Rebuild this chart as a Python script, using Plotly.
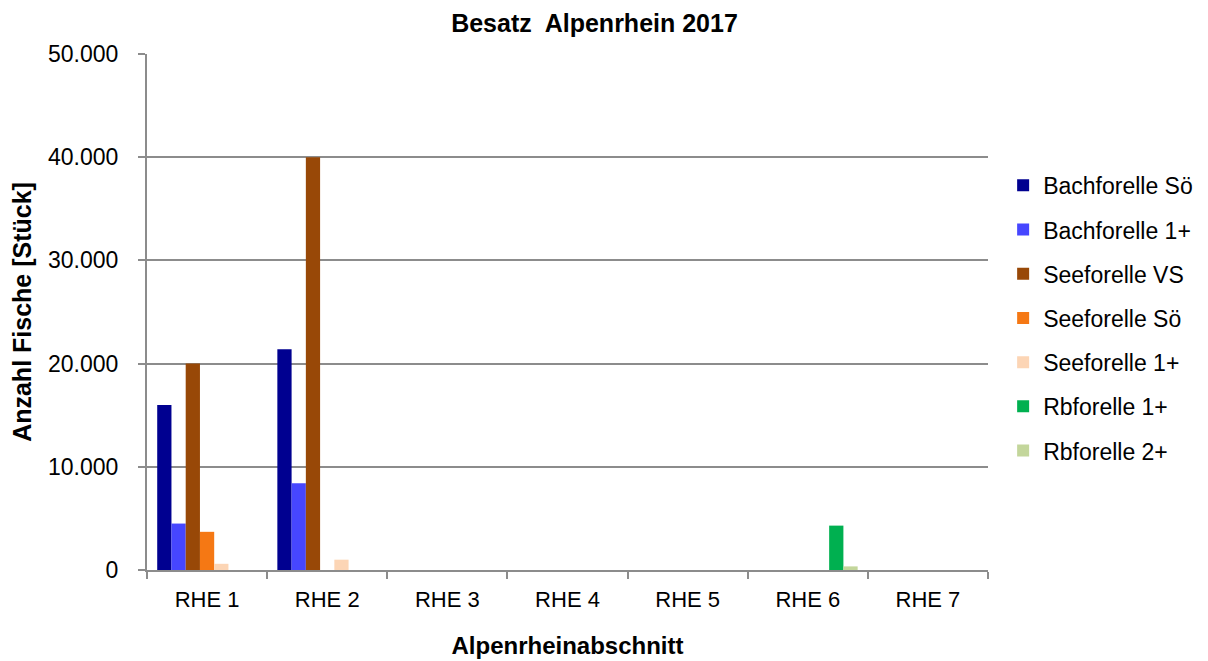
import plotly.graph_objects as go

categories = ["RHE 1", "RHE 2", "RHE 3", "RHE 4", "RHE 5", "RHE 6", "RHE 7"]
series_names = ["Bachforelle Sö", "Bachforelle 1+", "Seeforelle VS", "Seeforelle Sö",
                "Seeforelle 1+", "Rbforelle 1+", "Rbforelle 2+"]
bachforelle_soe = [16000, 21400, 0, 0, 0, 0, 0]
bachforelle_1 = [4500, 8400, 0, 0, 0, 0, 0]
seeforelle_vs = [20000, 40000, 0, 0, 0, 0, 0]
seeforelle_soe = [3700, 0, 0, 0, 0, 0, 0]
seeforelle_1 = [600, 1000, 0, 0, 0, 0, 0]
rbforelle_1 = [0, 0, 0, 0, 0, 4300, 0]
rbforelle_2 = [0, 0, 0, 0, 0, 350, 0]
colors = ["#000090", "#4646FF", "#984807", "#F57814", "#FCD5B5", "#00B050", "#C3D69B"]

values = [bachforelle_soe, bachforelle_1, seeforelle_vs, seeforelle_soe,
          seeforelle_1, rbforelle_1, rbforelle_2]

font_family = "Liberation Sans, Arial, sans-serif"

fig = go.Figure()
for name, vals, col in zip(series_names, values, colors):
    fig.add_trace(go.Bar(x=categories, y=vals, name=name, marker_color=col,
                         marker_line_width=0, legendgroup=name))

fig.update_layout(
    width=1208, height=661,
    barmode="group", bargap=0.17, bargroupgap=0,
    separators=",.",
    plot_bgcolor="white", paper_bgcolor="white",
    margin=dict(l=139, r=228, t=46, b=99),
    font=dict(family=font_family, color="black", size=22),
    title=dict(text="<b>Besatz  Alpenrhein 2017</b>", x=0.4855, xanchor="center",
               y=0.977, yanchor="middle", font=dict(size=25, family=font_family)),
    legend=dict(x=1.018, xanchor="left", y=0.787, yanchor="top",
                font=dict(size=23, family=font_family), tracegroupgap=11.3,
                itemwidth=30, traceorder="grouped"),
    showlegend=True,
)
fig.update_xaxes(
    showline=True, linecolor="#8C8C8C", linewidth=2, automargin=False,
    ticks="outside", tickson="boundaries", ticklen=7, tickcolor="#8C8C8C", tickwidth=2,
    tickfont=dict(size=22), ticklabelstandoff=9,
    title=dict(text="<b>Alpenrheinabschnitt</b>", font=dict(size=24), standoff=26),
)
fig.update_yaxes(
    range=[0, 50000], dtick=10000, tickformat=",d", automargin=False,
    showline=True, linecolor="#8C8C8C", linewidth=2,
    showgrid=True, gridcolor="#8C8C8C", gridwidth=2,
    ticks="outside", ticklen=7, tickcolor="#8C8C8C", tickwidth=2,
    tickfont=dict(size=23), zeroline=False, ticklabelstandoff=15,
    title=dict(text="<b>Anzahl Fische [Stück]</b>", font=dict(size=25), standoff=19),
)

fig.write_html("out.html")
